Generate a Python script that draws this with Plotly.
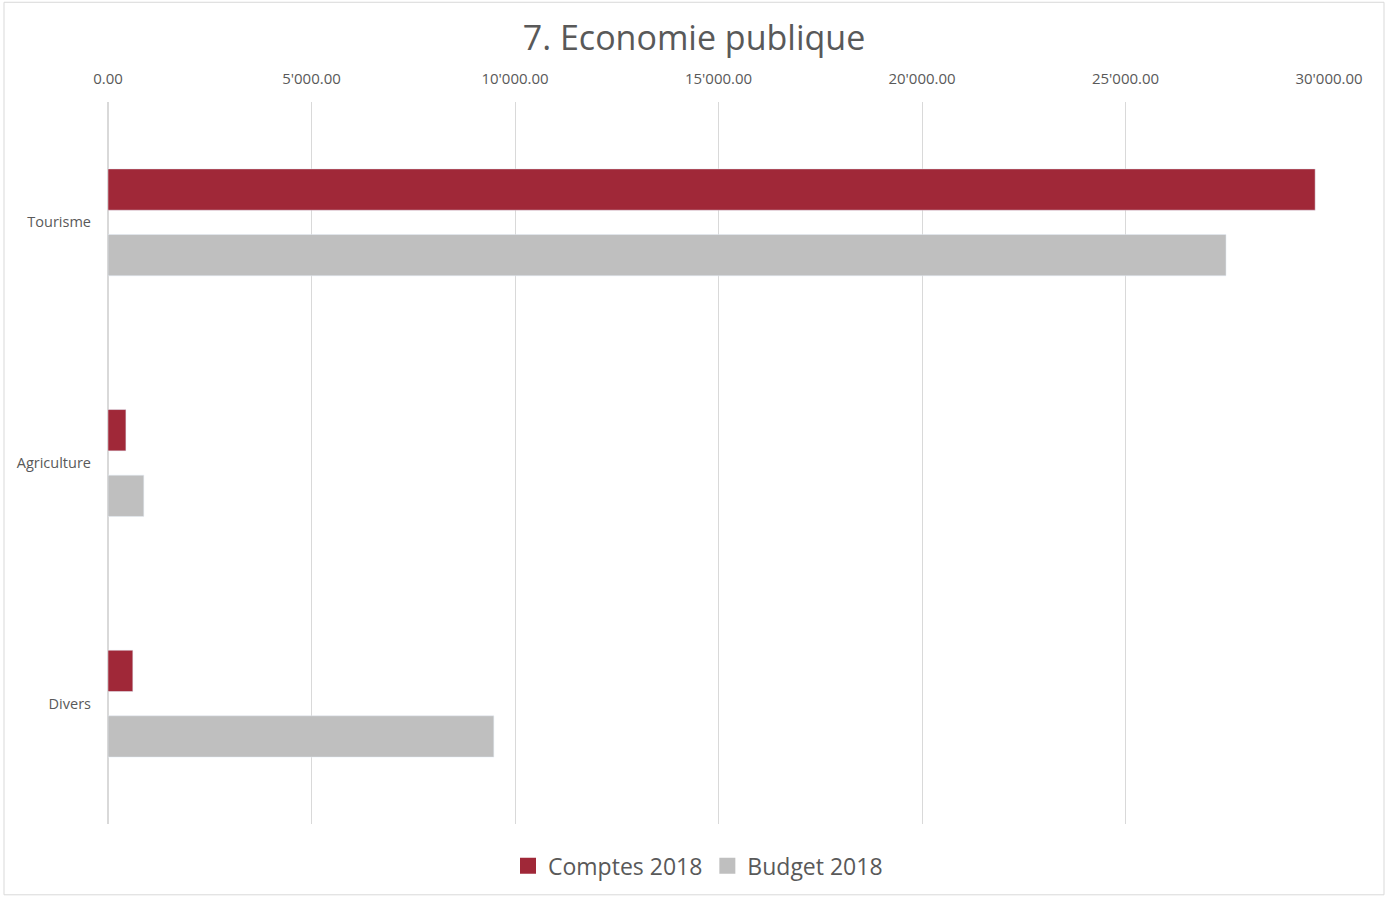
import plotly.graph_objects as go

categories = ["Tourisme", "Agriculture", "Divers"]
comptes_2018 = [29660, 440, 610]
budget_2018 = [27470, 880, 9480]
x_ticks = [0, 5000, 10000, 15000, 20000, 25000, 30000]

W, H = 1389, 899
L, R, T, B = 108, 60, 102, 73
pw, ph = W - L - R, H - T - B

def px_x(p):
    return (p - L) / pw

def px_y(p):
    return (H - B - p) / ph

RED, GREY = "#A02838", "#BFBFBF"

fig = go.Figure()
fig.add_trace(go.Bar(y=categories, x=comptes_2018, orientation="h", name="Comptes 2018",
                     marker=dict(color=RED), showlegend=False))
fig.add_trace(go.Bar(y=categories, x=budget_2018, orientation="h", name="Budget 2018",
                     marker=dict(color=GREY), showlegend=False))
# legend entries with larger square swatches
for nm, col in [("Comptes 2018", RED), ("Budget 2018", GREY)]:
    fig.add_trace(go.Scatter(x=[None], y=[None], mode="markers", name=nm,
                             marker=dict(symbol="square", size=16, color=col),
                             showlegend=True, hoverinfo="skip"))

fig.update_layout(
    width=W, height=H,
    margin=dict(l=L, r=R, t=T, b=B),
    paper_bgcolor="white", plot_bgcolor="white",
    font=dict(family="Open Sans", color="#595959"),
    separators=".'",
    barmode="group", bargap=0.455, bargroupgap=0.37,
    title=dict(text="7. Economie publique", xref="container", x=694 / W, xanchor="center",
               yref="container", y=1 - 38 / H, yanchor="middle",
               font=dict(size=34, color="#595959")),
    showlegend=True,
    legend=dict(orientation="h", x=px_x(698), xanchor="center", y=px_y(868), yanchor="middle",
                font=dict(size=23, color="#595959"), itemwidth=30, tracegroupgap=0),
    xaxis=dict(side="top", range=[0, 30000], tickvals=x_ticks, tickformat=",.2f",
               showgrid=True, gridcolor="#D9D9D9", gridwidth=1,
               zeroline=True, zerolinecolor="#D9D9D9", zerolinewidth=2,
               showline=False, ticks="", ticklabelstandoff=14,
               tickfont=dict(size=15, color="#595959")),
    yaxis=dict(categoryorder="array", categoryarray=categories, autorange="reversed",
               showgrid=False, zeroline=False, showline=False, ticks="",
               ticklabelstandoff=16, tickfont=dict(size=14.5, color="#595959")),
    shapes=[dict(type="rect", xref="paper", yref="paper",
                 x0=px_x(4), x1=px_x(1384), y0=px_y(897), y1=px_y(2),
                 line=dict(color="#D9D9D9", width=1), fillcolor="rgba(0,0,0,0)", layer="below")],
)

fig.write_html("out.html", config={"displayModeBar": False},
               post_script="document.body.style.margin='0px';")
